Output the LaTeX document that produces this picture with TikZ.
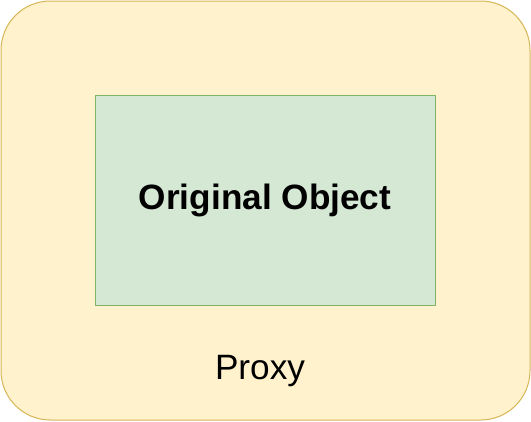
\documentclass[tikz,border=0pt]{standalone}
\usepackage{fontspec}
\setmainfont{Liberation Sans}
\usepackage{xcolor}
\usepackage{tikz}
\usetikzlibrary{positioning}
\definecolor{ProxyFill}{HTML}{FFF2CC}
\definecolor{ProxyLine}{HTML}{D6B656}
\definecolor{ObjFill}{HTML}{D5E8D4}
\definecolor{ObjLine}{HTML}{82B366}

\begin{document}
\begin{tikzpicture}[x=0.75pt, y=-0.75pt]
    \useasboundingbox (0,0) rectangle (531,421);
    \node[draw=ProxyLine, fill=ProxyFill, rounded corners=37pt,
          minimum width=396.75pt, minimum height=314.25pt, line width=0.75pt] (proxy) at (265.5,210.5) {};
    \node[draw=ObjLine, fill=ObjFill, minimum width=255pt, minimum height=157.5pt,
          line width=0.75pt] (orig) at (265,200) {};
    \node[font=\fontsize{26.4}{31}\selectfont\bfseries] at (orig) {Original Object};
    \node[font=\fontsize{26.4}{31}\selectfont, anchor=base] (proxylabel) at (260,379) {Proxy};
  \end{tikzpicture}
\end{document}
